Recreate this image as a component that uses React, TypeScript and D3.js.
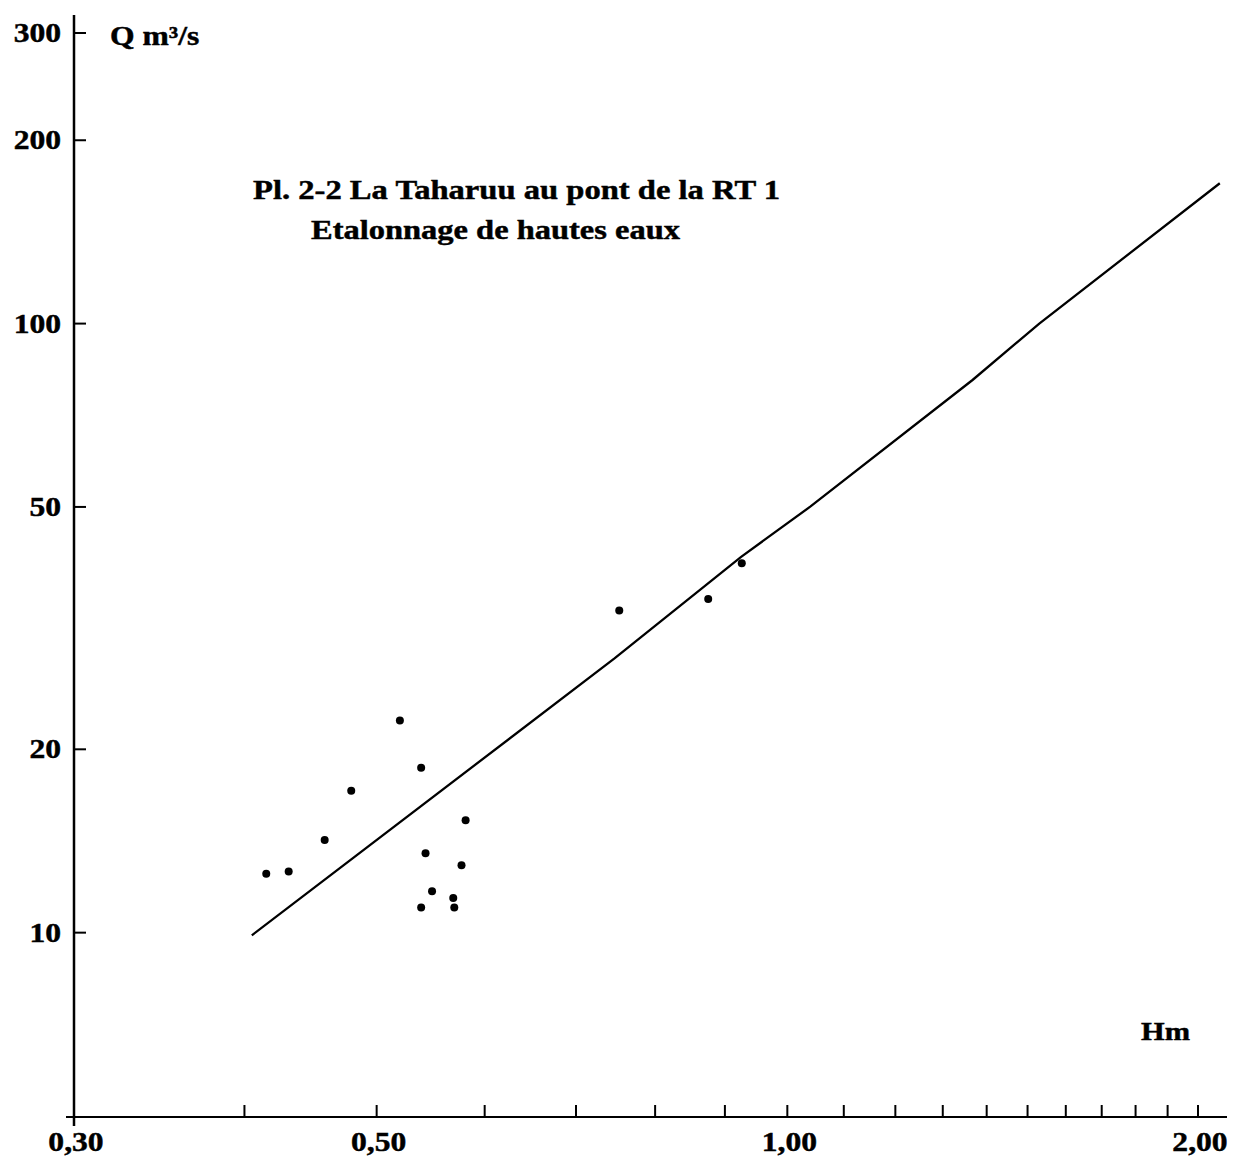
import React from "react";
import * as d3 from "d3";

// Observed gaugings: stage H (m) and discharge Q (m3/s)
const gaugeH = [0.415, 0.431, 0.458, 0.479, 0.520, 0.539, 0.581, 0.543, 0.577, 0.549, 0.569, 0.539, 0.570, 0.753, 0.875, 0.926];
const gaugeQ = [12.5, 12.6, 14.2, 17.1, 22.3, 18.65, 15.3, 13.5, 12.9, 11.7, 11.4, 11.0, 11.0, 33.8, 35.3, 40.4];

// Rating curve (hand-drawn line)
const curveH = [0.405, 0.747, 0.925, 1.04, 1.367, 1.53, 2.075];
const curveQ = [9.9, 28.2, 41.4, 50.1, 80.8, 100, 170];

// Axes
const yTickValues = [10, 20, 50, 100, 200, 300];
const yTickLabels = ["10", "20", "50", "100", "200", "300"];
const xMinorTicks = [0.4, 0.5, 0.6, 0.7, 0.8, 0.9, 1.0, 1.1, 1.2, 1.3, 1.4, 1.5, 1.6, 1.7, 1.8, 1.9, 2.0];
const xLabelValues = [0.3, 0.5, 1.0, 2.0];
const xLabelTexts = ["0,30", "0,50", "1,00", "2,00"];

const titleLine1 = "Pl. 2-2 La Taharuu au pont de la RT 1";
const titleLine2 = "Etalonnage de hautes eaux";
const yAxisTitle = "Q m³/s";
const xAxisTitle = "Hm";

const W = 1237;
const H = 1163;

export default function App() {
  const x = d3.scaleLog().domain([0.3, 2.0]).range([74, 1198]);
  const y = d3.scaleLog().domain([5, 300]).range([1116, 33]);

  const line = d3
    .line<number>()
    .x((_, i) => x(curveH[i]))
    .y((_, i) => y(curveQ[i]));

  const font = "Liberation Serif, Times New Roman, Times, serif";
  const stretch = 1.17;
  const axisY = y(5) + 1;
  const axisX = x(0.3);

  const textStyle: React.CSSProperties = {
    fontFamily: font,
    fontWeight: 700,
    stroke: "#000",
    strokeWidth: 0.45,
  };

  return (
    <svg
      width={W}
      height={H}
      style={{ position: "absolute", left: 0, top: 0, background: "#fff" }}
    >
      <rect x={0} y={0} width={W} height={H} fill="#fff" />
      {/* Y axis */}
      <line x1={axisX} x2={axisX} y1={15} y2={axisY + 9} stroke="#000" strokeWidth={2.5} />
      {/* X axis */}
      <line x1={axisX - 8} x2={1227} y1={axisY} y2={axisY} stroke="#000" strokeWidth={2} />

      {/* Y ticks and labels */}
      {yTickValues.map((v, i) => (
        <g key={"yt" + i}>
          <line x1={axisX} x2={axisX + 12} y1={y(v)} y2={y(v)} stroke="#000" strokeWidth={2} />
          <g transform={`translate(61, ${y(v)}) scale(${stretch}, 1)`}>
            <text x={0} y={0} dy="0.34em" textAnchor="end" fontSize={27} fill="#000" style={textStyle}>
              {yTickLabels[i]}
            </text>
          </g>
        </g>
      ))}

      {/* X ticks */}
      {xMinorTicks.map((v, i) => (
        <line key={"xt" + i} x1={x(v)} x2={x(v)} y1={axisY} y2={axisY - 12} stroke="#000" strokeWidth={2} />
      ))}
      {xLabelValues.map((v, i) => (
        <g key={"xl" + i} transform={`translate(${x(v) + 2}, 1151) scale(${stretch}, 1)`}>
          <text x={0} y={0} textAnchor="middle" fontSize={27} fill="#000" style={textStyle}>
            {xLabelTexts[i]}
          </text>
        </g>
      ))}

      {/* Axis titles */}
      <g transform={`translate(110, 45) scale(${stretch}, 1)`}>
        <text x={0} y={0} fontSize={27} fill="#000" style={textStyle}>
          {yAxisTitle}
        </text>
      </g>
      <g transform={`translate(1141, 1040) scale(${stretch}, 1)`}>
        <text x={0} y={0} fontSize={26} fill="#000" style={textStyle}>
          {xAxisTitle}
        </text>
      </g>

      {/* Title */}
      <text x={253} y={199} fontSize={27} fill="#000" textLength={527} lengthAdjust="spacingAndGlyphs" style={textStyle}>
        {titleLine1}
      </text>
      <text x={311} y={239} fontSize={27} fill="#000" textLength={369} lengthAdjust="spacingAndGlyphs" style={textStyle}>
        {titleLine2}
      </text>

      {/* Rating curve */}
      <path d={line(curveH) || ""} fill="none" stroke="#000" strokeWidth={2.3} />

      {/* Gaugings */}
      {gaugeH.map((h, i) => (
        <circle key={"p" + i} cx={x(h)} cy={y(gaugeQ[i])} r={4} fill="#000" />
      ))}
    </svg>
  );
}
